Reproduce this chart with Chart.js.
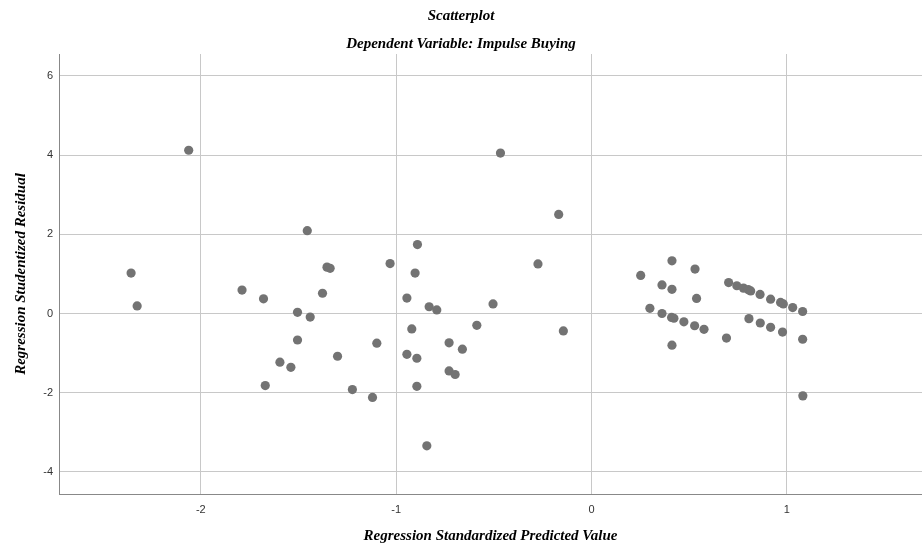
<!DOCTYPE html>
<html>
<head>
<meta charset="utf-8">
<title>Scatterplot</title>
<script src="https://cdn.jsdelivr.net/npm/chart.js@4.4.1/dist/chart.umd.min.js"></script>
<style>
  html, body { margin: 0; padding: 0; background: #ffffff; }
  #wrap { width: 922px; height: 547px; position: relative; }
</style>
</head>
<body>
<div id="wrap"><canvas id="residualChart"></canvas></div>
<script>
// chart texts
const chartTitle = 'Scatterplot';
const chartSubtitle = 'Dependent Variable: Impulse Buying';
const xTitle = 'Regression Standardized Predicted Value';
const yTitle = 'Regression Studentized Residual';

// tick labels
const xTicks = [-2, -1, 0, 1];
const yTicks = [-4, -2, 0, 2, 4, 6];

// points: standardized predicted value (x) / studentized residual (y)
const predicted = [
    -2.062, -2.357, -2.326, -1.455, -1.354, -1.338, -1.789, -1.679, -1.377, -1.505,
    -1.440, -1.505, -1.300, -1.595, -1.539, -1.670,
    -0.466, -0.168, -0.891, -1.031, -0.903, -0.274, -0.945, -0.831, -0.792, -0.504,
    -0.587, -0.920, -0.144, -1.099, -0.729, -0.661, -0.945, -0.894, -0.729, -0.698,
    -1.224, -1.121, -0.894, -0.843,
    0.252, 0.412, 0.530, 0.361, 0.412, 0.538, 0.299, 0.361, 0.410, 0.422,
    0.473, 0.528, 0.576, 0.412, 0.691, 0.702, 0.744, 0.778, 0.803, 0.815,
    0.863, 0.917, 0.968, 0.982, 1.030, 1.081, 0.806, 0.864, 0.917, 0.978,
    1.081, 1.082
];
const residual = [
    4.12, 1.02, 0.19, 2.09, 1.17, 1.14, 0.59, 0.37, 0.51, 0.03,
    -0.09, -0.67, -1.08, -1.23, -1.36, -1.82,
    4.05, 2.50, 1.74, 1.26, 1.02, 1.25, 0.39, 0.17, 0.09, 0.24,
    -0.30, -0.39, -0.44, -0.75, -0.74, -0.90, -1.03, -1.13, -1.45, -1.54,
    -1.92, -2.12, -1.84, -3.34,
    0.96, 1.33, 1.12, 0.72, 0.61, 0.38, 0.13, 0.00, -0.10, -0.12,
    -0.21, -0.31, -0.40, -0.80, -0.62, 0.78, 0.70, 0.64, 0.60, 0.57,
    0.48, 0.36, 0.28, 0.24, 0.15, 0.05, -0.13, -0.24, -0.35, -0.47,
    -0.65, -2.08
];

const serifFont = { family: '"Liberation Serif", "Times New Roman", serif', size: 15, weight: 'bold', style: 'italic' };
const tickFont = { family: '"Liberation Sans", Arial, sans-serif', size: 11 };
const gridColor = '#c8c8c8';
const axisColor = '#888888';

document.addEventListener('DOMContentLoaded', () => {
    try {
        const canvas = document.getElementById('residualChart');
        const points = predicted.map((x, i) => ({ x: x, y: residual[i] }));

        new Chart(canvas.getContext('2d'), {
            type: 'scatter',
            data: {
                datasets: [{
                    data: points,
                    backgroundColor: '#737373',
                    borderWidth: 0,
                    pointRadius: 4.6,
                    pointHoverRadius: 4.6
                }]
            },
            options: {
                responsive: true,
                maintainAspectRatio: false,
                animation: false,
                // no auto padding: plot area runs to the right edge like the original
                layout: { padding: 0, autoPadding: false },
                plugins: {
                    legend: { display: false },
                    tooltip: { enabled: false },
                    title: {
                        display: true, text: chartTitle, color: '#000',
                        font: serifFont, padding: { top: 7, bottom: 0 }
                    },
                    subtitle: {
                        display: true, text: chartSubtitle, color: '#000',
                        font: serifFont, padding: { top: 10, bottom: 1 }
                    }
                },
                scales: {
                    x: {
                        type: 'linear',
                        min: -2.726, max: 1.692,
                        afterBuildTicks: s => { s.ticks = xTicks.map(v => ({ value: v })); },
                        afterFit: s => { s.height = 53; },
                        grid: { color: gridColor, lineWidth: 1, drawTicks: false },
                        border: { display: true, color: axisColor, width: 1 },
                        ticks: { color: '#333', font: tickFont, padding: 9, maxRotation: 0 },
                        title: { display: true, text: xTitle, color: '#000', font: serifFont, padding: { top: 0, bottom: 2 } }
                    },
                    y: {
                        type: 'linear',
                        min: -4.557, max: 6.55,
                        afterBuildTicks: s => { s.ticks = yTicks.map(v => ({ value: v })); },
                        afterFit: s => { s.width = 59; },
                        grid: { color: gridColor, lineWidth: 1, drawTicks: false },
                        border: { display: true, color: axisColor, width: 1 },
                        ticks: { color: '#333', font: tickFont, padding: 6 },
                        title: { display: true, text: yTitle, color: '#000', font: serifFont, padding: { top: 12, bottom: 0 } }
                    }
                }
            }
        });
    } catch(e) { console.warn('Scatter chart failed', e); }
});
</script>
</body>
</html>
